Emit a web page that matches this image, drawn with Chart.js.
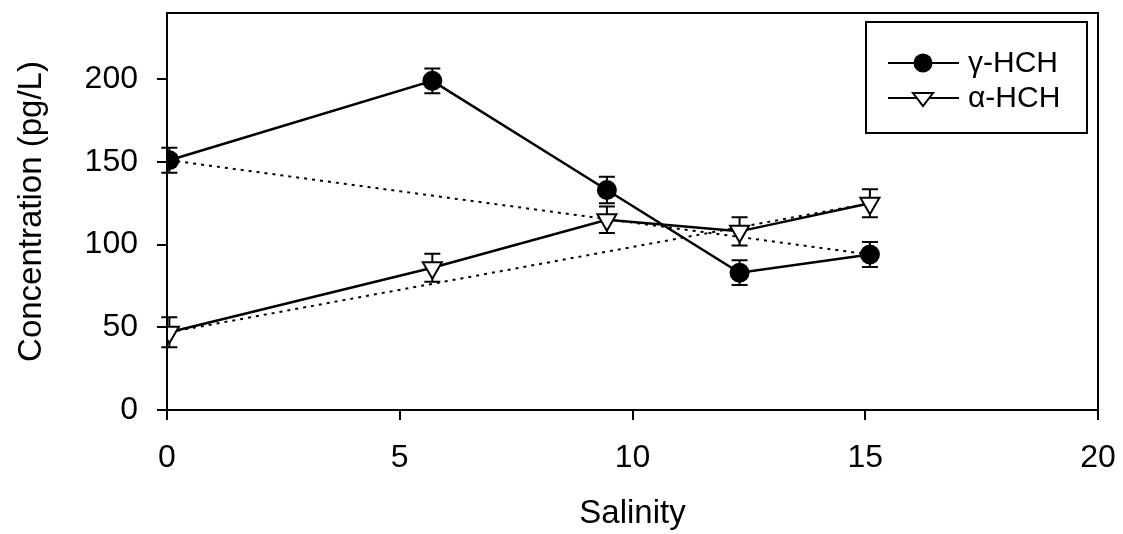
<!DOCTYPE html>
<html>
<head>
<meta charset="utf-8">
<script src="https://cdn.jsdelivr.net/npm/chart.js@4/dist/chart.umd.min.js"></script>
<style>
  html, body { margin: 0; padding: 0; background: #fff; }
  #wrap { width: 1123px; height: 534px; }
</style>
</head>
<body>
<div id="wrap"><canvas id="hchChart" width="1123" height="534"></canvas></div>
<script>
  // values
  const salinity = [0.05, 5.7, 9.45, 12.3, 15.1];
  const gammaHCH = [151, 199, 133, 83, 94];
  const gammaErr = [7.5, 7.5, 8, 7.5, 7.5];
  const alphaHCH = [47, 86, 115, 108, 125];
  const alphaErr = [9, 8.5, 8, 8.5, 8.5];
  const xTicks = [0, 5, 10, 15, 20];
  const yTicks = [0, 50, 100, 150, 200];
  const seriesNames = ["\u03b3-HCH", "\u03b1-HCH"];

  const last = salinity.length - 1;
  const pts = (ys) => salinity.map((x, i) => ({ x: x, y: ys[i] }));
  // conservative mixing line: first to last sample
  const mixLine = (ys) => [{ x: salinity[0], y: ys[0] }, { x: salinity[last], y: ys[last] }];

  Chart.defaults.font.family = "'Liberation Sans', Arial, sans-serif";
  Chart.defaults.color = "#000";

  // error bars, drawn under the markers
  const errorBars = {
    id: "errorBars",
    beforeDatasetsDraw(chart) {
      const ctx = chart.ctx;
      const xs = chart.scales.x, ys = chart.scales.y;
      const sets = [[gammaHCH, gammaErr], [alphaHCH, alphaErr]];
      ctx.save();
      ctx.strokeStyle = "#000";
      ctx.lineWidth = 2;
      sets.forEach(([vals, errs]) => {
        vals.forEach((v, i) => {
          const px = xs.getPixelForValue(salinity[i]);
          const top = ys.getPixelForValue(v + errs[i]);
          const bot = ys.getPixelForValue(v - errs[i]);
          ctx.beginPath();
          ctx.moveTo(px, top); ctx.lineTo(px, bot);
          ctx.moveTo(px - 8, top); ctx.lineTo(px + 8, top);
          ctx.moveTo(px - 8, bot); ctx.lineTo(px + 8, bot);
          ctx.stroke();
        });
      });
      ctx.restore();
    }
  };

  // plot frame and boxed legend
  const frameAndLegend = {
    id: "frameAndLegend",
    afterDraw(chart) {
      const ctx = chart.ctx;
      const a = chart.chartArea;
      ctx.save();
      ctx.strokeStyle = "#000";
      ctx.lineWidth = 2;
      ctx.strokeRect(a.left, a.top, a.right - a.left, a.bottom - a.top);

      const bx = 866, by = 22, bw = 221, bh = 111;
      ctx.fillStyle = "#fff";
      ctx.fillRect(bx, by, bw, bh);
      ctx.strokeRect(bx, by, bw, bh);

      const rows = [63, 98];
      ctx.font = "30px 'Liberation Sans', Arial, sans-serif";
      ctx.textBaseline = "middle";
      rows.forEach((ry, k) => {
        ctx.beginPath();
        ctx.moveTo(888, ry); ctx.lineTo(959, ry);
        ctx.stroke();
        if (k === 0) {
          ctx.beginPath();
          ctx.arc(923, ry, 9.5, 0, Math.PI * 2);
          ctx.fillStyle = "#000";
          ctx.fill();
        } else {
          ctx.beginPath();
          ctx.moveTo(913, ry - 5);
          ctx.lineTo(933, ry - 5);
          ctx.lineTo(923, ry + 8);
          ctx.closePath();
          ctx.fillStyle = "#fff";
          ctx.fill();
          ctx.stroke();
        }
        ctx.fillStyle = "#000";
        ctx.fillText(seriesNames[k], 968, ry + 1);
      });
      ctx.restore();
    }
  };

  new Chart(document.getElementById("hchChart"), {
    type: "scatter",
    data: {
      datasets: [
        {
          label: seriesNames[0],
          data: pts(gammaHCH),
          showLine: true,
          borderColor: "#000",
          borderWidth: 2.5,
          pointStyle: "circle",
          pointRadius: 10,
          pointBackgroundColor: "#000",
          pointBorderColor: "#000",
          pointBorderWidth: 0
        },
        {
          label: seriesNames[1],
          data: pts(alphaHCH),
          showLine: true,
          borderColor: "#000",
          borderWidth: 2.5,
          pointStyle: "triangle",
          rotation: 180,
          pointRadius: 11,
          pointBackgroundColor: "#fff",
          pointBorderColor: "#000",
          pointBorderWidth: 2
        },
        {
          label: "mix-gamma",
          data: mixLine(gammaHCH),
          showLine: true,
          borderColor: "#000",
          borderWidth: 2,
          borderDash: [3, 5],
          pointRadius: 0
        },
        {
          label: "mix-alpha",
          data: mixLine(alphaHCH),
          showLine: true,
          borderColor: "#000",
          borderWidth: 2,
          borderDash: [3, 5],
          pointRadius: 0
        }
      ]
    },
    options: {
      responsive: false,
      animation: false,
      layout: { padding: { top: 13, right: 25, left: 0, bottom: 0 } },
      plugins: {
        legend: { display: false },
        tooltip: { enabled: false }
      },
      scales: {
        x: {
          type: "linear",
          min: 0,
          max: 20,
          afterBuildTicks: (s) => { s.ticks = xTicks.map(v => ({ value: v })); },
          afterFit: (s) => { s.height = 124; s.paddingLeft = 0; s.paddingRight = 0; },
          grid: { drawOnChartArea: false, drawTicks: true, tickLength: 10, color: "#000", lineWidth: 2 },
          border: { display: true, color: "#000", width: 2 },
          ticks: { font: { size: 32 }, padding: 19, color: "#000" },
          title: { display: true, text: "Salinity", font: { size: 33 }, padding: { top: 0, bottom: 0 }, color: "#000" }
        },
        y: {
          type: "linear",
          min: 0,
          max: 240,
          afterBuildTicks: (s) => { s.ticks = yTicks.map(v => ({ value: v })); },
          afterFit: (s) => { s.width = 167; s.paddingTop = 0; s.paddingBottom = 0; },
          grid: { drawOnChartArea: false, drawTicks: true, tickLength: 10, color: "#000", lineWidth: 2 },
          border: { display: true, color: "#000", width: 2 },
          ticks: { font: { size: 32 }, padding: 19, color: "#000" },
          title: { display: true, text: "Concentration (pg/L)", font: { size: 33 }, padding: { top: 12, bottom: 0 }, color: "#000" }
        }
      }
    },
    plugins: [errorBars, frameAndLegend]
  });
</script>
</body>
</html>
